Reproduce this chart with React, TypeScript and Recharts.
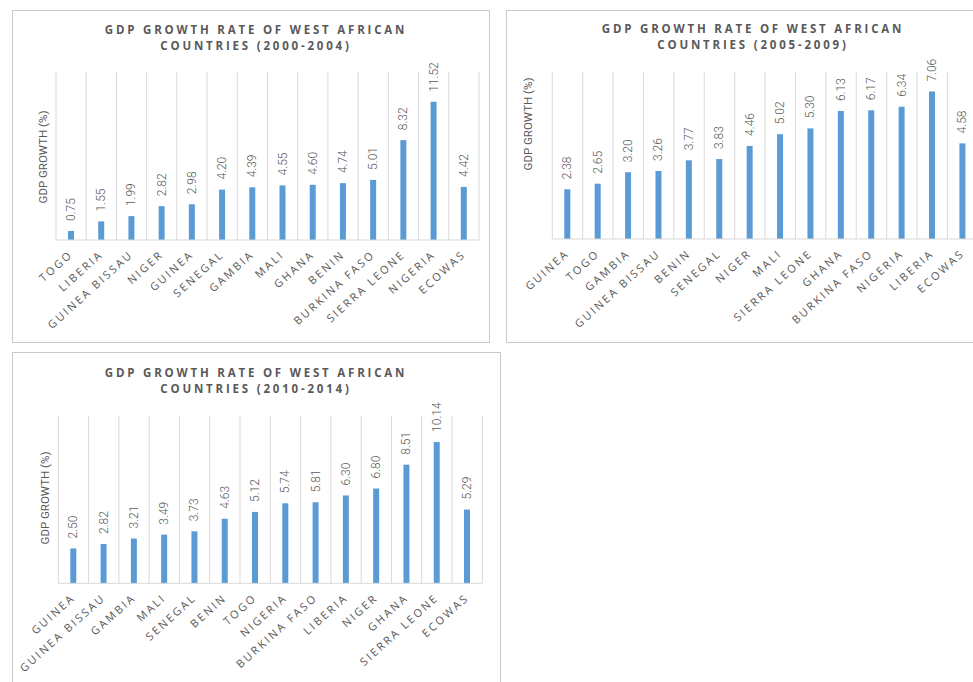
import React from 'react'
import { BarChart, Bar, XAxis, YAxis, CartesianGrid, LabelList } from 'recharts'

// GDP growth (%) by country, averaged over each five-year period
const countries2000 = [
  'TOGO', 'LIBERIA', 'GUINEA BISSAU', 'NIGER', 'GUINEA', 'SENEGAL', 'GAMBIA',
  'MALI', 'GHANA', 'BENIN', 'BURKINA FASO', 'SIERRA LEONE', 'NIGERIA', 'ECOWAS',
]
const growth2000 = [0.75, 1.55, 1.99, 2.82, 2.98, 4.2, 4.39, 4.55, 4.6, 4.74, 5.01, 8.32, 11.52, 4.42]

const countries2005 = [
  'GUINEA', 'TOGO', 'GAMBIA', 'GUINEA BISSAU', 'BENIN', 'SENEGAL', 'NIGER',
  'MALI', 'SIERRA LEONE', 'GHANA', 'BURKINA FASO', 'NIGERIA', 'LIBERIA', 'ECOWAS',
]
const growth2005 = [2.38, 2.65, 3.2, 3.26, 3.77, 3.83, 4.46, 5.02, 5.3, 6.13, 6.17, 6.34, 7.06, 4.58]

const countries2010 = [
  'GUINEA', 'GUINEA BISSAU', 'GAMBIA', 'MALI', 'SENEGAL', 'BENIN', 'TOGO',
  'NIGERIA', 'BURKINA FASO', 'LIBERIA', 'NIGER', 'GHANA', 'SIERRA LEONE', 'ECOWAS',
]
const growth2010 = [2.5, 2.82, 3.21, 3.49, 3.73, 4.63, 5.12, 5.74, 5.81, 6.3, 6.8, 8.51, 10.14, 5.29]

type Row = { name: string; value: number }

const toRows = (names: string[], values: number[]): Row[] =>
  names.map((name, i) => ({ name, value: values[i] }))

const GREY = '#595959'
const BAR = '#5b9bd5'
const GRID = '#d9d9d9'

function CountryTick({ x, y, payload }: any) {
  return (
    <text
      transform={`translate(${x + 2.5},${y + 15.5}) rotate(-42)`}
      textAnchor="end"
      fontFamily="'Open Sans', sans-serif"
      fontSize={11}
      letterSpacing={2.3}
      fill={GREY}
    >
      {payload.value}
    </text>
  )
}

function ValueLabel({ x, y, width, value }: any) {
  const cx = Number(x) + Number(width) / 2
  const ty = Number(y) - 10
  return (
    <text
      transform={`translate(${cx},${ty}) rotate(-90)`}
      textAnchor="start"
      dominantBaseline="central"
      fontFamily="Roboto, sans-serif"
      fontWeight={300}
      fontSize={12}
      fill={GREY}
    >
      {Number(value).toFixed(2)}
    </text>
  )
}

// vertical separators sit between categories, not on them
const boundaries = (n: number) => ({ offset }: any) =>
  Array.from({ length: n + 1 }, (_, i) => offset.left + (i * offset.width) / n)

type PanelProps = {
  left: number
  top: number
  width: number
  height: number
  period: string
  titleX: number
  titleY: number
  labelX: number
  labelY: number
  plot: { left: number; top: number; right: number; bottom: number }
  yMax: number
  rows: Row[]
}

function Panel(p: PanelProps) {
  return (
    <div
      style={{
        position: 'absolute',
        left: p.left,
        top: p.top,
        width: p.width - 2,
        height: p.height - 2,
        border: '1px solid #cacaca',
        background: '#fff',
      }}
    >
      <div
        style={{
          position: 'absolute',
          left: p.titleX - 200 - 1,
          top: p.titleY - 8 - 1,
          width: 400,
          textAlign: 'center',
          fontFamily: "'Open Sans', sans-serif",
          fontWeight: 700,
          fontSize: 11.5,
          lineHeight: '16px',
          letterSpacing: 2.8,
          color: GREY,
          whiteSpace: 'nowrap',
        }}
      >
        GDP GROWTH RATE OF WEST AFRICAN
        <br />
        COUNTRIES ({p.period})
      </div>
      <div
        style={{
          position: 'absolute',
          left: p.labelX - 60 - 1,
          top: p.labelY - 7 - 1,
          width: 120,
          height: 14,
          lineHeight: '14px',
          textAlign: 'center',
          transform: 'rotate(-90deg)',
          fontFamily: 'Roboto, sans-serif',
          fontSize: 11.5,
          color: GREY,
          whiteSpace: 'nowrap',
        }}
      >
        GDP GROWTH (%)
      </div>
      <div style={{ position: 'absolute', left: -1, top: -1 }}>
        <BarChart
          width={p.width}
          height={p.height}
          data={p.rows}
          margin={{ top: p.plot.top, left: p.plot.left, right: p.width - p.plot.right, bottom: 0 }}
        >
          <CartesianGrid
            horizontal={false}
            stroke={GRID}
            verticalCoordinatesGenerator={boundaries(p.rows.length)}
          />
          <XAxis
            dataKey="name"
            interval={0}
            height={p.height - p.plot.bottom}
            tickLine={false}
            tickSize={0}
            tickMargin={0}
            axisLine={{ stroke: GRID }}
            tick={<CountryTick />}
          />
          <YAxis hide type="number" domain={[0, p.yMax]} />
          <Bar dataKey="value" fill={BAR} barSize={6} isAnimationActive={false}>
            <LabelList dataKey="value" content={<ValueLabel />} />
          </Bar>
        </BarChart>
      </div>
    </div>
  )
}

export default function App() {
  return (
    <div
      style={{
        position: 'absolute',
        left: 0,
        top: 0,
        width: 973,
        height: 682,
        overflow: 'hidden',
        background: '#fff',
      }}
    >
      <Panel
        left={12}
        top={10}
        width={478}
        height={333}
        period="2000-2004"
        titleX={244}
        titleY={20}
        labelX={31}
        labelY={147}
        plot={{ left: 44, top: 62, right: 467, bottom: 230 }}
        yMax={14}
        rows={toRows(countries2000, growth2000)}
      />
      <Panel
        left={506}
        top={10}
        width={490}
        height={333}
        period="2005-2009"
        titleX={247}
        titleY={19}
        labelX={22}
        labelY={114}
        plot={{ left: 46.3, top: 62, right: 471.8, bottom: 229 }}
        yMax={8}
        rows={toRows(countries2005, growth2005)}
      />
      <Panel
        left={12}
        top={352}
        width={489}
        height={340}
        period="2010-2014"
        titleX={244}
        titleY={21}
        labelX={33}
        labelY={146}
        plot={{ left: 46.3, top: 64, right: 470.3, bottom: 231.3 }}
        yMax={12}
        rows={toRows(countries2010, growth2010)}
      />
    </div>
  )
}
